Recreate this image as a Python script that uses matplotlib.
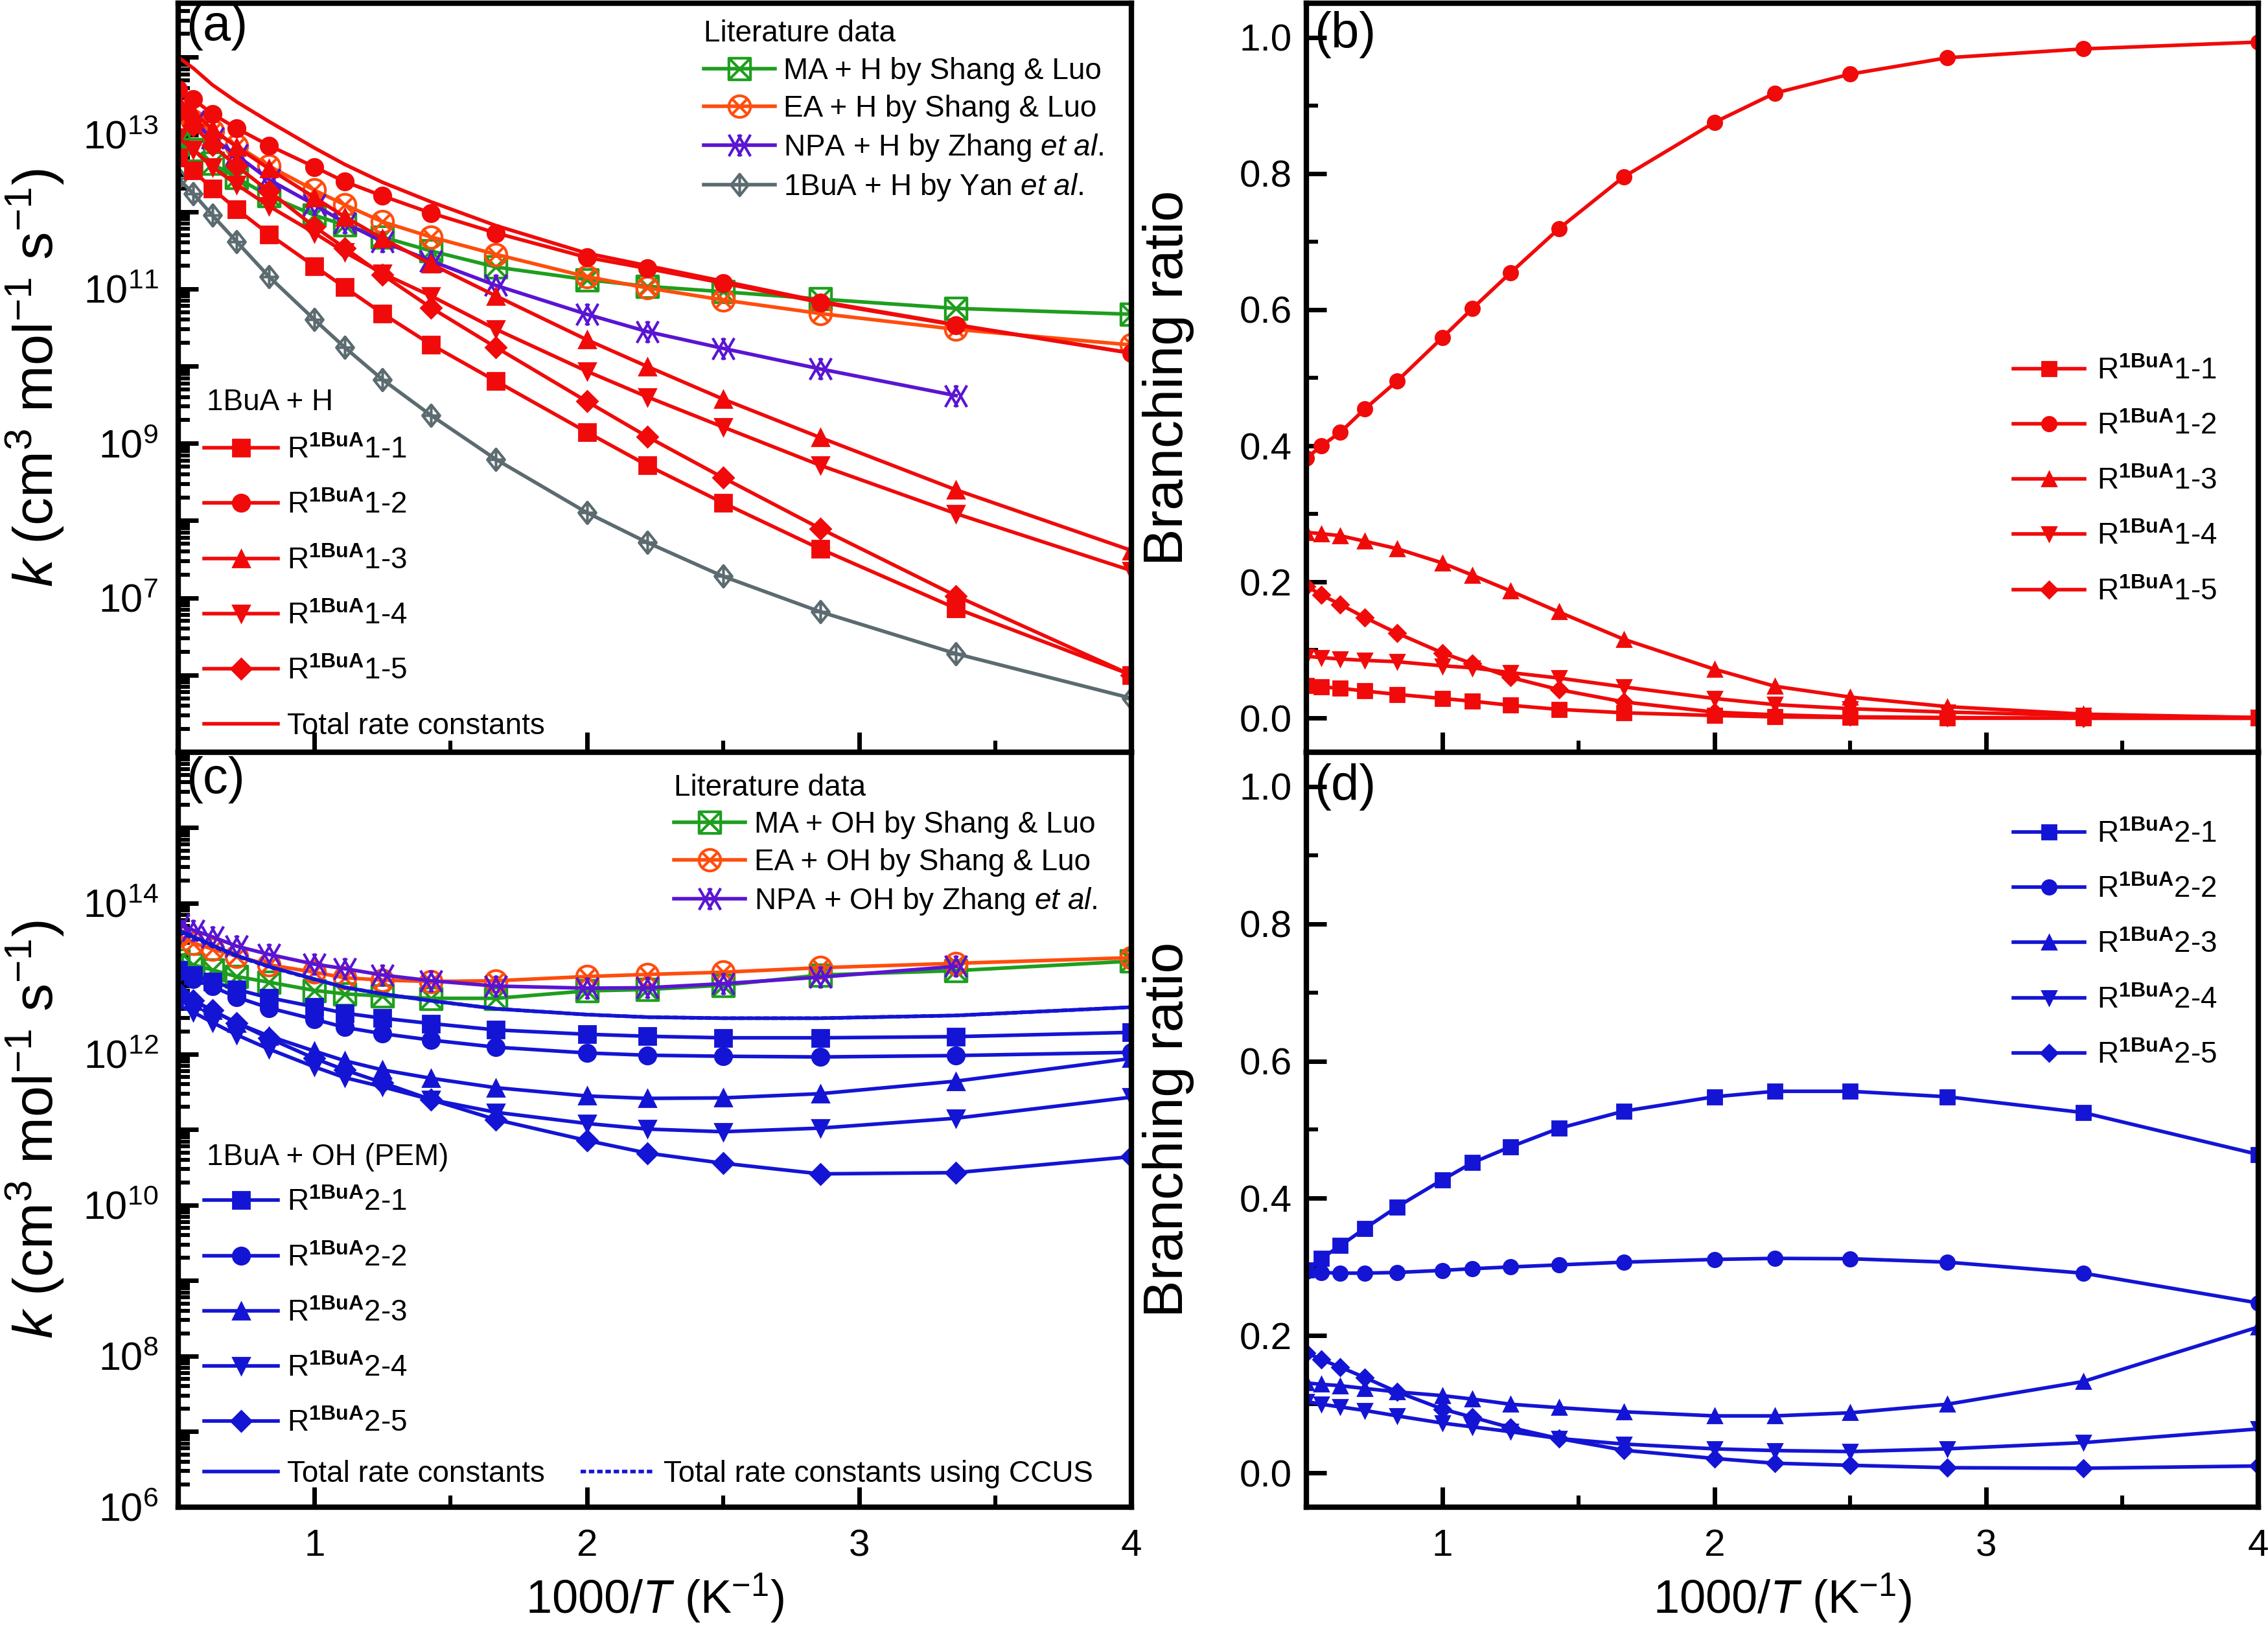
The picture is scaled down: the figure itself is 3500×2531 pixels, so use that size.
import math
import matplotlib
matplotlib.use("Agg")
import matplotlib.pyplot as plt
from matplotlib.path import Path
from matplotlib.ticker import FixedLocator, MultipleLocator, LogLocator, FuncFormatter, NullFormatter

plt.rcParams['font.family'] = ['Liberation Sans', 'DejaVu Sans']
plt.rcParams['mathtext.fontset'] = 'custom'
plt.rcParams['mathtext.rm'] = 'Liberation Sans'
plt.rcParams['mathtext.it'] = 'Liberation Sans:italic'
plt.rcParams['mathtext.bf'] = 'Liberation Sans:bold'

# temperatures (K); x axis is 1000/T
temps = [2000, 1800, 1600, 1400, 1200, 1000, 900, 800, 700, 600, 500, 450, 400, 350, 298, 250]

# (a) 1BuA + H rate constants
k_h_total = [1.0e14, 7.2e13, 4.4e13, 2.65e13, 1.47e13, 6.7e12, 4.1e12, 2.4e12, 1.34e12, 6.6e11,
             2.9e11, 2.0e11, 1.26e11, 6.9e10, 3.45e10, 1.48e10]
k_h_1 = [5.0e12, 3.4e12, 1.98e12, 1.08e12, 5.1e11, 1.97e11, 1.05e11, 4.8e10, 1.9e10, 6.4e9,
         1.4e9, 5.2e8, 1.7e8, 4.3e7, 7.3e6, 1.0e6]
k_h_2 = [3.8e13, 2.85e13, 1.85e13, 1.2e13, 7.2e12, 3.8e12, 2.45e12, 1.6e12, 9.6e11, 5.3e11,
         2.56e11, 1.84e11, 1.19e11, 6.7e10, 3.4e10, 1.47e10]
k_h_3 = [2.7e13, 1.93e13, 1.18e13, 6.9e12, 3.6e12, 1.53e12, 8.6e11, 4.5e11, 2.1e11, 8.1e10,
         2.2e10, 9.9e9, 3.75e9, 1.19e9, 2.5e8, 4.1e7]
k_h_4 = [9.1e12, 6.4e12, 3.8e12, 2.25e12, 1.18e12, 5.3e11, 3.0e11, 1.59e11, 8.1e10, 3.0e10,
         8.6e9, 4.0e9, 1.63e9, 5.2e8, 1.23e8, 2.25e7]
k_h_5 = [1.93e13, 1.29e13, 7.3e12, 3.9e12, 1.84e12, 6.4e11, 3.4e11, 1.52e11, 5.7e10, 1.75e10,
         3.5e9, 1.22e9, 3.6e8, 7.9e7, 1.06e7, 1.0e6]
k_ma_h = [7.8e12, 6.3e12, 4.2e12, 2.75e12, 1.6e12, 9.0e11, 6.7e11, 4.7e11, 3.1e11, 1.92e11,
          1.32e11, 1.08e11, 9.2e10, 7.4e10, 5.6e10, 4.7e10]
k_ea_h = [1.93e13, 1.49e13, 1.11e13, 7.2e12, 3.9e12, 1.9e12, 1.23e12, 7.4e11, 4.7e11, 2.8e11,
          1.44e11, 1.03e11, 7.2e10, 4.8e10, 3.0e10, 1.88e10]
k_npa_h = [2.0e13, 1.49e13, 9.0e12, 5.4e12, 2.6e12, 1.23e12, 7.2e11, 4.1e11, 2.3e11, 1.11e11,
           4.7e10, 2.8e10, 1.7e10, 9.2e9, 4.15e9]
k_yan_h = [2.7e12, 1.71e12, 9.0e11, 4.1e11, 1.44e11, 4.0e10, 1.75e10, 6.7e9, 2.3e9, 6.2e8,
           1.27e8, 5.2e7, 1.9e7, 6.6e6, 1.89e6, 5.0e5]

# (b) branching ratios, 1BuA + H
br_h_1 = [0.048, 0.046, 0.044, 0.040, 0.035, 0.029, 0.025, 0.019, 0.013, 0.008, 0.004, 0.002, 0.001, 0.0, 0.0, 0.0]
br_h_2 = [0.382, 0.400, 0.420, 0.454, 0.495, 0.559, 0.602, 0.654, 0.719, 0.795, 0.875, 0.918, 0.946, 0.970, 0.983, 0.993]
br_h_3 = [0.273, 0.271, 0.268, 0.260, 0.249, 0.228, 0.210, 0.187, 0.156, 0.116, 0.072, 0.047, 0.031, 0.017, 0.006, 0.001]
br_h_4 = [0.091, 0.089, 0.087, 0.085, 0.083, 0.077, 0.074, 0.067, 0.059, 0.046, 0.029, 0.020, 0.014, 0.009, 0.004, 0.001]
br_h_5 = [0.194, 0.181, 0.167, 0.148, 0.125, 0.096, 0.080, 0.060, 0.042, 0.024, 0.009, 0.005, 0.002, 0.001, 0.0, 0.0]

# (c) 1BuA + OH rate constants
k_oh_total = [4.4e13, 3.6e13, 2.79e13, 2.03e13, 1.45e13, 9.9e12, 7.7e12, 6.3e12, 5.1e12, 4.0e12,
              3.35e12, 3.1e12, 3.0e12, 3.0e12, 3.26e12, 4.2e12]
k_oh_ccus = [4.1e13, 3.47e13, 2.71e13, 1.99e13, 1.44e13, 9.8e12, 7.7e12, 6.3e12, 5.1e12, 4.0e12,
             3.35e12, 3.1e12, 3.0e12, 3.0e12, 3.26e12, 4.2e12]
k_oh_1 = [1.30e13, 1.12e13, 9.2e12, 7.2e12, 5.6e12, 4.25e12, 3.5e12, 3.0e12, 2.55e12, 2.1e12,
          1.84e12, 1.73e12, 1.65e12, 1.65e12, 1.71e12, 1.95e12]
k_oh_2 = [1.22e13, 9.8e12, 7.9e12, 5.7e12, 4.1e12, 2.9e12, 2.27e12, 1.87e12, 1.54e12, 1.24e12,
          1.04e12, 9.7e11, 9.4e11, 9.2e11, 9.6e11, 1.06e12]
k_oh_3 = [6.2e12, 5.1e12, 3.8e12, 2.6e12, 1.74e12, 1.10e12, 8.2e11, 6.2e11, 4.8e11, 3.6e11,
          2.8e11, 2.6e11, 2.64e11, 3.0e11, 4.4e11, 8.8e11]
k_oh_4 = [4.5e12, 3.6e12, 2.64e12, 1.81e12, 1.17e12, 6.8e11, 4.9e11, 3.7e11, 2.5e11, 1.7e11,
          1.21e11, 1.02e11, 9.4e10, 1.05e11, 1.42e11, 2.7e11]
k_oh_5 = [6.6e12, 5.2e12, 3.8e12, 2.6e12, 1.63e12, 8.8e11, 6.2e11, 4.2e11, 2.5e11, 1.36e11,
          7.2e10, 4.9e10, 3.6e10, 2.6e10, 2.7e10, 4.4e10]
k_ma_oh = [1.74e13, 1.53e13, 1.31e13, 1.07e13, 9.0e12, 7.0e12, 6.3e12, 5.9e12, 5.5e12, 5.5e12,
           6.9e12, 7.2e12, 8.2e12, 1.12e13, 1.28e13, 1.71e13]
k_ea_oh = [3.7e13, 2.96e13, 2.48e13, 1.99e13, 1.53e13, 1.22e13, 1.03e13, 9.6e12, 9.2e12, 9.4e12,
           1.07e13, 1.14e13, 1.22e13, 1.40e13, 1.6e13, 1.9e13]
k_npa_oh = [5.2e13, 4.4e13, 3.6e13, 2.7e13, 2.1e13, 1.56e13, 1.36e13, 1.12e13, 9.4e12, 8.0e12,
            7.5e12, 7.6e12, 8.6e12, 1.05e13, 1.46e13]

# (d) branching ratios, 1BuA + OH
br_oh_1 = [0.296, 0.3125, 0.331, 0.356, 0.3875, 0.427, 0.452, 0.475, 0.502, 0.527, 0.548, 0.556, 0.556, 0.548, 0.525, 0.464]
br_oh_2 = [0.294, 0.292, 0.291, 0.291, 0.292, 0.295, 0.2975, 0.300, 0.303, 0.307, 0.311, 0.3125, 0.312, 0.307, 0.291, 0.2475]
br_oh_3 = [0.131, 0.129, 0.127, 0.123, 0.118, 0.1125, 0.1075, 0.100, 0.095, 0.089, 0.083, 0.083, 0.0875, 0.100, 0.133, 0.2125]
br_oh_4 = [0.104, 0.100, 0.096, 0.091, 0.083, 0.0725, 0.067, 0.060, 0.050, 0.042, 0.035, 0.0325, 0.031, 0.035, 0.044, 0.064]
br_oh_5 = [0.175, 0.165, 0.154, 0.139, 0.118, 0.093, 0.081, 0.066, 0.050, 0.033, 0.021, 0.014, 0.011, 0.0075, 0.0067, 0.010]

x = [1000.0 / t for t in temps]

RED = '#F00A0A'
BLUE = '#1414D4'
GREEN = '#1E9E1E'
ORANGE = '#FF4D0D'
PURPLE = '#5A14D2'
GRAY = '#5B6B70'

# custom open markers
MV, LT, CL = Path.MOVETO, Path.LINETO, Path.CLOSEPOLY
sq_cross = Path([(-1, -1), (1, -1), (1, 1), (-1, 1), (-1, -1), (-1, -1), (1, 1), (-1, 1), (1, -1)],
                [MV, LT, LT, LT, CL, MV, LT, MV, LT])
circ_cross = Path.make_compound_path(
    Path.unit_circle(),
    Path([(-0.707, -0.707), (0.707, 0.707), (-0.707, 0.707), (0.707, -0.707)], [MV, LT, MV, LT]))
double_x = Path([(-1, -1), (0.15, 1), (-1, 1), (0.15, -1), (-0.15, -1), (1, 1), (-0.15, 1), (1, -1)],
                [MV, LT, MV, LT, MV, LT, MV, LT])
dia_plus = Path([(0, 1), (0.8, 0), (0, -1), (-0.8, 0), (0, 1), (0, 1), (0, -1), (-0.8, 0), (0.8, 0)],
                [MV, LT, LT, LT, CL, MV, LT, MV, LT])

fig = plt.figure(figsize=(17.5, 12.655), dpi=200)
ax_a = fig.add_axes([0.0786, 0.5413, 0.4203, 0.4567])
ax_c = fig.add_axes([0.0786, 0.081, 0.4203, 0.4603])
ax_b = fig.add_axes([0.576, 0.5413, 0.4197, 0.4567])
ax_d = fig.add_axes([0.576, 0.081, 0.4197, 0.4603])

LW = 2.0
fillmarks = ['s', 'o', '^', 'v', 'D']


def lit(ax, xs, ys, color, marker, label, ms=12):
    n = len(ys)
    return ax.plot(xs[:n], ys, color=color, lw=LW, marker=marker, ms=ms, mfc='none',
                   mec=color, mew=1.5, label=label)[0]


def chans(ax, series, color, prefix, ms):
    hs = []
    for i, (ys, m) in enumerate(zip(series, fillmarks)):
        lab = r'R$^{\mathbf{1BuA}}$' + prefix + '-%d' % (i + 1)
        hs.append(ax.plot(x, ys, color=color, lw=LW, marker=m, ms=ms if m != 'D' else ms * 0.85,
                          label=lab)[0])
    return hs


# ---- (a)
la = [lit(ax_a, x, k_ma_h, GREEN, sq_cross, 'MA + H by Shang & Luo'),
      lit(ax_a, x, k_ea_h, ORANGE, circ_cross, 'EA + H by Shang & Luo'),
      lit(ax_a, x, k_npa_h, PURPLE, double_x, 'NPA + H by Zhang $\\it{et\\ al.}$'),
      lit(ax_a, x, k_yan_h, GRAY, dia_plus, '1BuA + H by Yan $\\it{et\\ al.}$')]
ha = chans(ax_a, [k_h_1, k_h_2, k_h_3, k_h_4, k_h_5], RED, '1', 9.5)
ha.append(ax_a.plot(x, k_h_total, color=RED, lw=LW, label='Total rate constants')[0])

# ---- (c)
lc = [lit(ax_c, x, k_ma_oh, GREEN, sq_cross, 'MA + OH by Shang & Luo'),
      lit(ax_c, x, k_ea_oh, ORANGE, circ_cross, 'EA + OH by Shang & Luo'),
      lit(ax_c, x, k_npa_oh, PURPLE, double_x, 'NPA + OH by Zhang $\\it{et\\ al.}$')]
hc = chans(ax_c, [k_oh_1, k_oh_2, k_oh_3, k_oh_4, k_oh_5], BLUE, '2', 9.5)
tot_c = ax_c.plot(x, k_oh_total, color=BLUE, lw=LW, label='Total rate constants')[0]
ccus_c = ax_c.plot(x, k_oh_ccus, color=BLUE, lw=LW, ls=(0, (1.5, 0.8)),
                   label='Total rate constants using CCUS')[0]

# ---- (b), (d)
hb = chans(ax_b, [br_h_1, br_h_2, br_h_3, br_h_4, br_h_5], RED, '1', 8)
hd = chans(ax_d, [br_oh_1, br_oh_2, br_oh_3, br_oh_4, br_oh_5], BLUE, '2', 8)

# ---- axes formatting
for ax in (ax_a, ax_b, ax_c, ax_d):
    ax.set_xlim(0.5, 4.0)
    ax.xaxis.set_major_locator(MultipleLocator(1))
    ax.xaxis.set_minor_locator(MultipleLocator(0.5))
    for sp in ax.spines.values():
        sp.set_linewidth(3)
    ax.tick_params(which='major', direction='in', length=11, width=2.5, labelsize=21)
    ax.tick_params(which='minor', direction='in', length=6.5, width=2.2)
    ax.tick_params(axis='x', which='both', top=False, pad=12)
    ax.tick_params(axis='y', which='both', right=False)

for ax in (ax_a, ax_b):
    ax.tick_params(axis='x', labelbottom=False)


def pow_label(keep):
    def f(v, p):
        e = int(round(math.log10(v)))
        return '$10^{%d}$' % e if keep(e) else ''
    return FuncFormatter(f)


ax_a.set_yscale('log')
ax_a.set_ylim(1e5, 5e14)
ax_a.yaxis.set_major_locator(FixedLocator([10.0 ** e for e in range(5, 15)]))
ax_a.yaxis.set_major_formatter(pow_label(lambda e: e % 2 == 1 and e >= 7))

ax_c.set_yscale('log')
ax_c.set_ylim(1e6, 1e16)
ax_c.yaxis.set_major_locator(FixedLocator([10.0 ** e for e in range(6, 17)]))
ax_c.yaxis.set_major_formatter(pow_label(lambda e: e % 2 == 0 and e <= 14))

for ax in (ax_a, ax_c):
    ax.yaxis.set_minor_locator(LogLocator(base=10, subs=range(2, 10), numticks=30))
    ax.yaxis.set_minor_formatter(NullFormatter())
    ax.tick_params(axis='y', which='major', pad=11, labelsize=22)
    ax.set_ylabel(r'$k$ (cm$^{3}$ mol$^{-1}$ s$^{-1}$)', fontsize=31)
    ax.yaxis.set_label_coords(-0.118, 0.5)

for ax in (ax_b, ax_d):
    ax.set_ylim(-0.05, 1.05)
    ax.yaxis.set_major_locator(MultipleLocator(0.2))
    ax.yaxis.set_minor_locator(MultipleLocator(0.1))
    ax.yaxis.set_major_formatter(FuncFormatter(lambda v, p: '%.1f' % (0.0 if abs(v) < 1e-9 else v)))
    ax.tick_params(axis='y', which='major', pad=8)
    ax.set_ylabel('Branching ratio', fontsize=31)
    ax.yaxis.set_label_coords(-0.118, 0.5)

for ax in (ax_c, ax_d):
    ax.set_xlabel(r'1000/$T$ (K$^{-1}$)', fontsize=26)
    ax.xaxis.set_label_coords(0.5, -0.085)

for ax, lab, yy in ((ax_a, '(a)', 1.0), (ax_b, '(b)', 0.99), (ax_c, '(c)', 0.995), (ax_d, '(d)', 0.985)):
    ax.text(0.008, yy, lab, transform=ax.transAxes, ha='left', va='top', fontsize=28)

# ---- legends
FS = 16.5
lk = dict(frameon=False, fontsize=FS, title_fontsize=FS, alignment='left', borderpad=0,
          borderaxespad=0, handletextpad=0.3, loc='upper left')

leg = ax_a.legend(handles=la, title='Literature data', bbox_to_anchor=(0.551, 0.978),
                  handlelength=2.4, labelspacing=0.3, **lk)
ax_a.add_artist(leg)
ax_a.text(0.03, 0.467, '1BuA + H', transform=ax_a.transAxes, ha='left', va='center', fontsize=FS)
ax_a.legend(handles=ha, bbox_to_anchor=(0.027, 0.422), handlelength=2.5, labelspacing=0.9, **lk)

leg = ax_c.legend(handles=lc, title='Literature data', bbox_to_anchor=(0.52, 0.972),
                  handlelength=2.4, labelspacing=0.3, **lk)
ax_c.add_artist(leg)
ax_c.text(0.03, 0.4636, '1BuA + OH (PEM)', transform=ax_c.transAxes, ha='left', va='center', fontsize=FS)
leg = ax_c.legend(handles=hc, bbox_to_anchor=(0.027, 0.422), handlelength=2.5, labelspacing=0.9, **lk)
ax_c.add_artist(leg)
lk2 = dict(lk)
lk2['loc'] = 'lower left'
ax_c.legend(handles=[tot_c, ccus_c], bbox_to_anchor=(0.027, 0.025), ncol=2,
            handlelength=2.5, columnspacing=1.2, **lk2)

lk3 = dict(lk)
lk3['handletextpad'] = 0.4
ax_b.legend(handles=hb, bbox_to_anchor=(0.743, 0.528), handlelength=2.4, labelspacing=0.9, **lk3)
ax_d.legend(handles=hd, bbox_to_anchor=(0.743, 0.91), handlelength=2.4, labelspacing=0.9, **lk3)

fig.savefig('out.png', dpi=200)
